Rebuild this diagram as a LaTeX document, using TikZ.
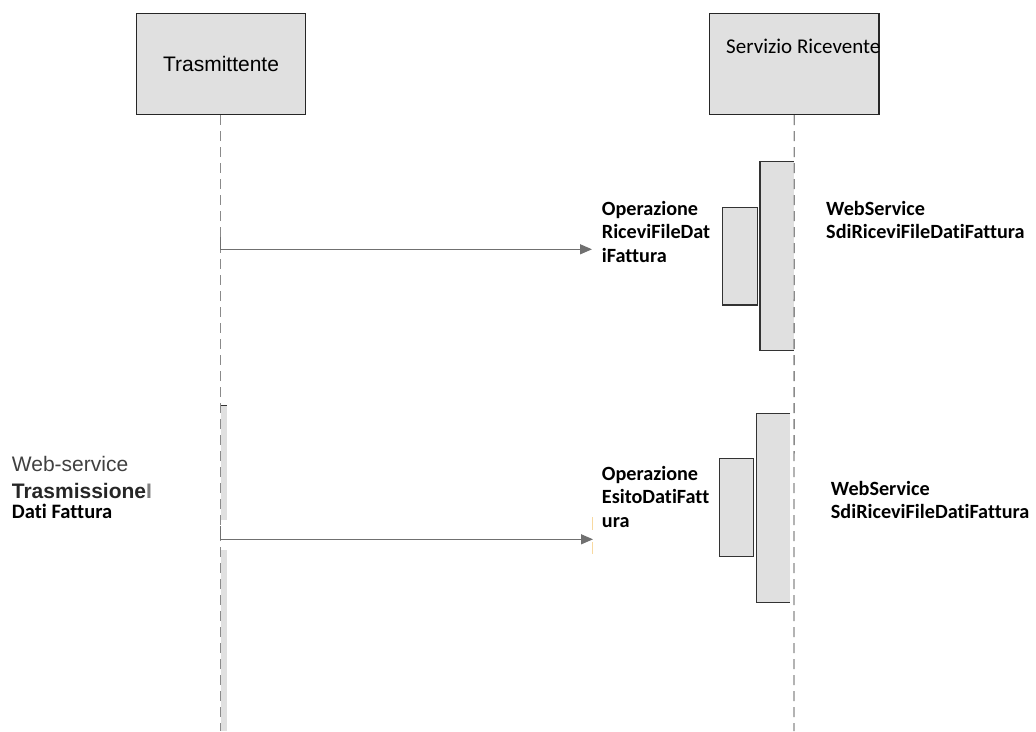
\documentclass[tikz,border=0pt]{standalone}
\usepackage{fontspec}
\setmainfont{Liberation Sans}
\newfontfamily\calfont[Ligatures={NoCommon}]{Carlito}
\usetikzlibrary{arrows.meta}
\definecolor{boxfill}{HTML}{E0E0E0}
\definecolor{lifegray}{HTML}{8A8A8A}
\definecolor{arrgray}{HTML}{707070}
\definecolor{tickorange}{HTML}{F8D9A0}
\tikzset{
  actor/.style={draw=black!85, line width=1.4pt, fill=boxfill, inner sep=0pt},
  lifeline/.style={draw=lifegray, line width=1.3pt, dash pattern=on 10pt off 6pt},
  actbox/.style={fill=boxfill, draw=none},
  actedge/.style={draw=black!80, line width=1.3pt},
  msg/.style={draw=arrgray, line width=1.3pt, -{Triangle[length=12pt,width=10pt]}},
  lbl/.style={inner sep=0pt, anchor=base west, align=left, font=\calfont\bfseries\fontsize{20.2}{23.5}\selectfont},
  sans/.style={inner sep=0pt, anchor=base west, font=\fontsize{21}{24}\selectfont}
}
\begin{document}
\begin{tikzpicture}[x=1pt,y=-1pt]
\useasboundingbox (0,0) rectangle (1036,731);
% actors
\node[actor, minimum width=169.5pt, minimum height=101pt, font=\fontsize{21}{24}\selectfont] (tr) at (221,63.8) {Trasmittente};
\node[actor, minimum width=169.5pt, minimum height=101pt] (sr) at (794.2,64) {};
\node[inner sep=0pt, anchor=base west, font=\calfont\fontsize{21}{24}\selectfont] (srt) at (726,53.3) {Servizio Ricevente};
% lifeline ends
\coordinate (trend) at (220.7,731);
\coordinate (srend) at (794,731);
% left activation bars
\fill[boxfill] (220.7,405) rectangle (226.7,520);
\fill[boxfill] (220.7,550) rectangle (226.7,731);
\draw[actedge, line width=1pt] (220.7,405) -- (226.7,405);
% right activations, top
\fill[actbox] (760,161.7) rectangle (794,350.7);
\draw[actedge] (794,161.7) -- (760,161.7) -- (760,350.7) -- (794,350.7);
\node[actbox, draw=black!80, line width=1.3pt, minimum width=34.6pt, minimum height=97.7pt, inner sep=0pt] (a1) at (740,256.2) {};
% right activations, bottom
\fill[actbox] (756.7,413.3) rectangle (790,602.3);
\draw[actedge] (790,413.3) -- (756.7,413.3) -- (756.7,602.3) -- (790,602.3);
\node[actbox, draw=black!80, line width=1.3pt, minimum width=34pt, minimum height=98pt, inner sep=0pt] (a2) at (736.7,507.7) {};
% lifelines
\draw[lifeline] (tr.south -| trend) -- (trend);
\draw[lifeline] (sr.south) -- (srend);
% messages
\coordinate (m1a) at (220.7,237);
\coordinate (m1b) at (220.7,249.3);
\coordinate (m1e) at (592,249.3);
\draw[msg] (m1a) -- (m1b) -- (m1e);
\coordinate (m2a) at (220.7,526);
\coordinate (m2b) at (220.7,539.3);
\coordinate (m2e) at (593,539.3);
\draw[msg] (m2a) -- (m2b) -- (m2e);
\draw[tickorange, line width=1pt] (592,517) -- (592,530) (592,542) -- (592,554);
% labels (anchor = baseline of last line)
\node[lbl] (op1) at (601.7,262) {Operazione\\RiceviFileDat\\iFattura};
\node[lbl] (ws1) at (826,238.5) {WebService\\SdiRiceviFileDatiFattura};
\node[lbl] (op2) at (601.7,527) {Operazione\\EsitoDatiFatt\\ura};
\node[lbl] (ws2) at (830.7,518.5) {WebService\\SdiRiceviFileDatiFattura};
% left text
\node[sans, text=black!75] (w1) at (11.7,471.7) {Web-service};
\node[sans, font=\bfseries\fontsize{21}{24}\selectfont, text=black!85] (w2) at (11.7,498.3) {Trasmissione\textcolor{black!50}{I}};
\node[inner sep=0pt, anchor=base west, font=\calfont\bfseries\fontsize{20.5}{23.5}\selectfont] (w3) at (11.7,518.3) {Dati Fattura};
\end{tikzpicture}
\end{document}
